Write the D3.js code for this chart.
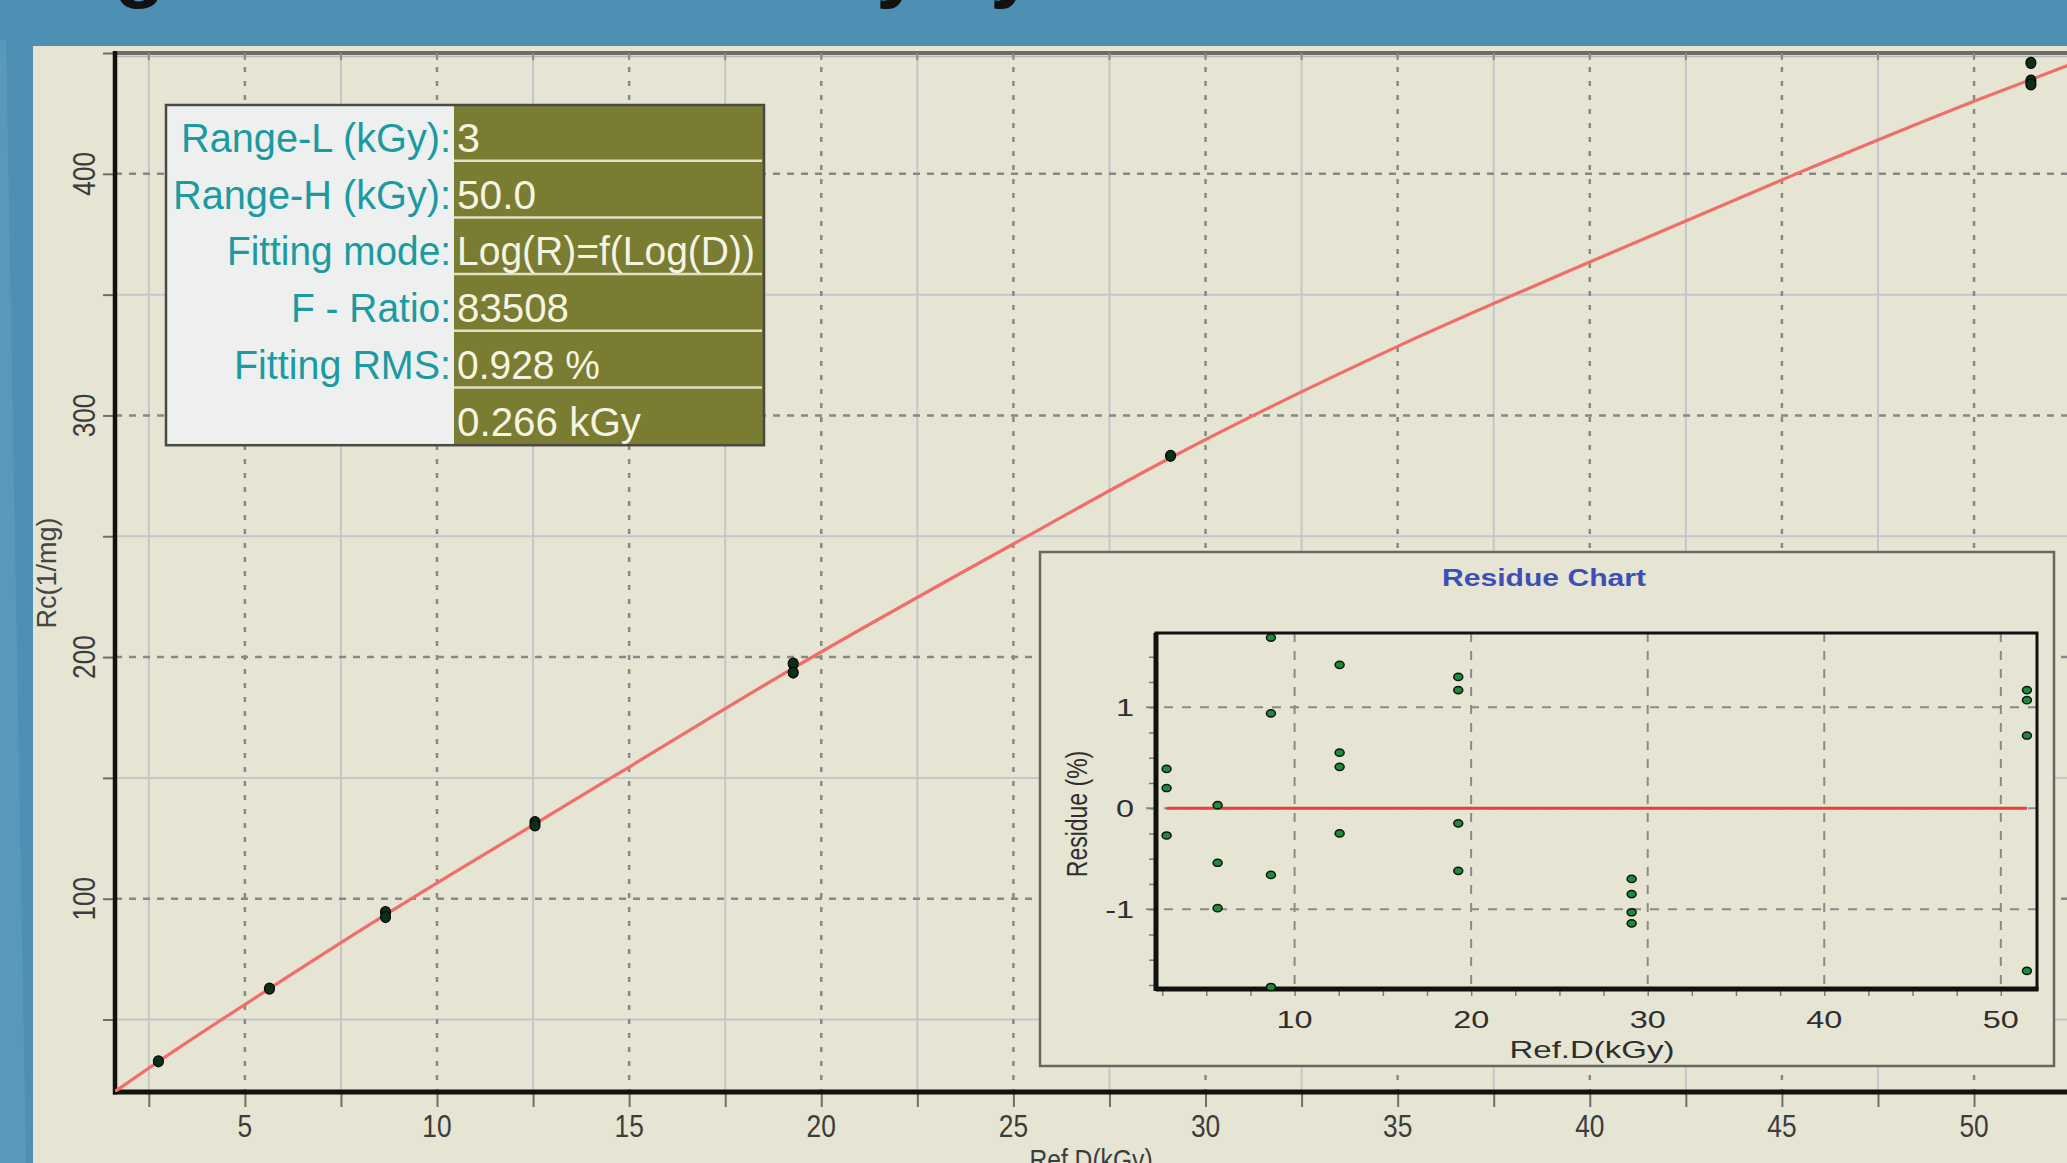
<!DOCTYPE html>
<html>
<head>
<meta charset="utf-8">
<script src="https://cdn.jsdelivr.net/npm/d3@7"></script>
<style>
  html, body { margin: 0; padding: 0; overflow: hidden; background: #4f90b5; }
  svg { display: block; }
</style>
</head>
<body>
<svg id="chart" width="2067" height="1163"></svg>
<script>
// values
const doseLevels = [2.75, 5.64, 8.66, 12.55, 19.27, 29.09, 51.48];

const rcDose = [2.75, 5.64, 8.66, 8.66, 12.55, 12.55, 19.27, 19.27, 29.09, 51.48, 51.48, 51.48];
const rcValue = [32.7, 62.8, 94.5, 92.4, 131.7, 130.3, 197.3, 193.6, 283.3, 445.9, 438.6, 437.0];

const fitDose = [1.62, 2.75, 5.64, 8.66, 12.55, 15, 19.27, 25, 29.09, 35, 40, 45, 50, 53.2];
const fitRc = [20.2, 32.6, 62.8, 93.4, 131.0, 154.5, 195.4, 246.8, 282.5, 328.6, 363.5, 397.5, 430.0, 449.5];

const resDose = [2.75, 2.75, 2.75, 5.64, 5.64, 5.64, 8.66, 8.66, 8.66, 8.66,
  12.55, 12.55, 12.55, 12.55, 19.27, 19.27, 19.27, 19.27,
  29.09, 29.09, 29.09, 29.09, 51.48, 51.48, 51.48, 51.48];
const resValue = [0.39, 0.2, -0.27, 0.03, -0.54, -0.99, 1.69, 0.94, -0.66, -1.77,
  1.42, 0.55, 0.41, -0.25, 1.30, 1.17, -0.15, -0.62,
  -0.70, -0.85, -1.03, -1.14, 1.17, 1.07, 0.72, -1.61];

const xTicksMain = [5, 10, 15, 20, 25, 30, 35, 40, 45, 50];
const yTicksMain = [100, 200, 300, 400];
const xTicksRes = [10, 20, 30, 40, 50];
const yTicksRes = [-1, 0, 1];

const infoLabels = ['Range-L (kGy):', 'Range-H (kGy):', 'Fitting mode:', 'F - Ratio:', 'Fitting RMS:', ''];
const infoValues = ['3', '50.0', 'Log(R)=f(Log(D))', '83508', '0.928 %', '0.266 kGy'];

const svg = d3.select('#chart');
const sans = "'Liberation Sans', Arial, sans-serif";
const panelFill = '#e6e4d3';

// slide background
svg.append('rect').attr('width', 2067).attr('height', 1163).attr('fill', '#4e8fb4');
svg.append('polygon')
  .attr('points', '0,40 6,40 26,1163 0,1163')
  .attr('fill', '#6ba3c4').attr('opacity', 0.45);
const title = svg.append('g')
  .attr('font-family', sans).attr('font-weight', 'bold').attr('font-size', 84).attr('fill', '#111');
title.append('text').attr('x', 114).attr('y', -8).text('g');
title.append('text').attr('x', 876).attr('y', -8).text('y');
title.append('text').attr('x', 990).attr('y', -8).text('y');

// chart panel
svg.append('rect').attr('x', 33).attr('y', 46).attr('width', 2067 - 33).attr('height', 1163 - 46).attr('fill', panelFill);

// ---------- main chart ----------
const plot = { left: 115, right: 2097, top: 53, bottom: 1092 };
const x = d3.scaleLinear().domain([1.62, 53.2]).range([plot.left, plot.right]);
const y = d3.scaleLinear().domain([20, 450]).range([plot.bottom, plot.top]);

const grid = svg.append('g');
// minor grid
grid.selectAll('.vminor').data(d3.range(2.5, 53, 5)).enter().append('line')
  .attr('x1', d => x(d)).attr('x2', d => x(d)).attr('y1', plot.top).attr('y2', plot.bottom)
  .attr('stroke', '#c4c6cc').attr('stroke-width', 2);
grid.selectAll('.hminor').data([50, 150, 250, 350]).enter().append('line')
  .attr('x1', plot.left).attr('x2', plot.right).attr('y1', d => y(d)).attr('y2', d => y(d))
  .attr('stroke', '#c4c6cc').attr('stroke-width', 2);
// major grid
grid.selectAll('.vmajor').data(xTicksMain).enter().append('line')
  .attr('x1', d => x(d)).attr('x2', d => x(d)).attr('y1', plot.top).attr('y2', plot.bottom)
  .attr('stroke', '#888888').attr('stroke-width', 2.5).attr('stroke-dasharray', '5,9');
grid.selectAll('.hmajor').data(yTicksMain).enter().append('line')
  .attr('x1', plot.left).attr('x2', plot.right).attr('y1', d => y(d)).attr('y2', d => y(d))
  .attr('stroke', '#888888').attr('stroke-width', 2.5).attr('stroke-dasharray', '7,7');

// axes
const xAxis = d3.axisBottom(x).tickValues(d3.range(2.5, 53, 2.5)).tickSize(15).tickFormat('');
svg.append('g').attr('transform', `translate(0,${plot.bottom})`).call(xAxis)
  .call(g => g.select('.domain').remove())
  .call(g => g.selectAll('.tick line').attr('stroke', '#6e6e6e').attr('stroke-width', 2));
const yAxis = d3.axisLeft(y).tickValues(d3.range(50, 451, 50)).tickSize(12).tickFormat('');
svg.append('g').attr('transform', `translate(${plot.left},0)`).call(yAxis)
  .call(g => g.select('.domain').remove())
  .call(g => g.selectAll('.tick line').attr('stroke', '#6e6e6e').attr('stroke-width', 2));
// top frame with little ticks
svg.append('line').attr('x1', plot.left).attr('x2', 2067).attr('y1', plot.top).attr('y2', plot.top)
  .attr('stroke', '#6c6c6a').attr('stroke-width', 4);
svg.append('line').attr('x1', plot.left).attr('x2', 2067).attr('y1', plot.top + 3.5).attr('y2', plot.top + 3.5)
  .attr('stroke', '#b9b8ac').attr('stroke-width', 1.5);
svg.append('g').selectAll('line').data(d3.range(2.5, 53, 2.5)).enter().append('line')
  .attr('x1', d => x(d)).attr('x2', d => x(d)).attr('y1', plot.top).attr('y2', plot.top + 7)
  .attr('stroke', '#8a8a8a').attr('stroke-width', 2);
svg.append('line').attr('x1', plot.left).attr('x2', plot.left).attr('y1', plot.top - 2).attr('y2', plot.bottom + 2.5)
  .attr('stroke', '#111').attr('stroke-width', 4.5);
svg.append('line').attr('x1', plot.left - 2).attr('x2', 2067).attr('y1', plot.bottom).attr('y2', plot.bottom)
  .attr('stroke', '#111').attr('stroke-width', 5);

// tick labels (condensed look, as in the reference)
svg.append('g').selectAll('text').data(xTicksMain).enter().append('text')
  .attr('transform', d => `translate(${x(d)},1137) scale(0.85,1)`)
  .attr('text-anchor', 'middle').attr('font-family', sans).attr('font-size', 31).attr('fill', '#3c3c3c')
  .text(d => d);
svg.append('g').selectAll('text').data(yTicksMain).enter().append('text')
  .attr('transform', d => `translate(95,${y(d)}) rotate(-90) scale(0.82,1)`)
  .attr('text-anchor', 'middle').attr('font-family', sans).attr('font-size', 32).attr('fill', '#3c3c3c')
  .text(d => d);
svg.append('text').attr('transform', 'translate(56,573) rotate(-90)')
  .attr('text-anchor', 'middle').attr('font-family', sans).attr('font-size', 27).attr('fill', '#454545')
  .text('Rc(1/mg)');
svg.append('text').attr('transform', 'translate(1091,1170) scale(0.85,1)')
  .attr('text-anchor', 'middle').attr('font-family', sans).attr('font-size', 29).attr('fill', '#3c3c3c')
  .text('Ref.D(kGy)');

// fit curve
svg.append('clipPath').attr('id', 'plotClip').append('rect')
  .attr('x', plot.left).attr('y', plot.top).attr('width', plot.right - plot.left).attr('height', plot.bottom - plot.top);
const fitLine = d3.line().x(d => x(d[0])).y(d => y(d[1])).curve(d3.curveMonotoneX);
svg.append('path').datum(d3.zip(fitDose, fitRc))
  .attr('clip-path', 'url(#plotClip)')
  .attr('d', fitLine).attr('fill', 'none').attr('stroke', '#ef6e6a').attr('stroke-width', 3.2);

// measured points
svg.append('g').selectAll('ellipse').data(d3.zip(rcDose, rcValue)).enter().append('ellipse')
  .attr('cx', d => x(d[0])).attr('cy', d => y(d[1])).attr('rx', 5).attr('ry', 5.5)
  .attr('fill', '#0d2e18').attr('stroke', '#030503').attr('stroke-width', 1.2);

// ---------- info box ----------
const box = { left: 166, top: 105, split: 454, right: 764, rowH: 56.7 };
const labelWidths = [270, 278, 224, 160, 217, 0];
const valueWidths = [23, 79, 298, 112, 143, 184];
const info = svg.append('g');
info.append('rect').attr('x', box.left).attr('y', box.top)
  .attr('width', box.split - box.left).attr('height', box.rowH * 6).attr('fill', '#eef0ef');
info.append('rect').attr('x', box.split).attr('y', box.top)
  .attr('width', box.right - box.split).attr('height', box.rowH * 6).attr('fill', '#7a7c31');
info.selectAll('.sep').data(d3.range(1, 6)).enter().append('line')
  .attr('x1', box.split).attr('x2', box.right - 2)
  .attr('y1', d => box.top + d * box.rowH - 1).attr('y2', d => box.top + d * box.rowH - 1)
  .attr('stroke', '#dfe2c4').attr('stroke-width', 2.5);
info.append('rect').attr('x', box.left).attr('y', box.top)
  .attr('width', box.right - box.left).attr('height', box.rowH * 6)
  .attr('fill', 'none').attr('stroke', '#4a4a44').attr('stroke-width', 2.5);
info.selectAll('.lab').data(infoLabels).enter().append('text')
  .attr('x', (d, i) => 451 - labelWidths[i]).attr('y', (d, i) => box.top + i * box.rowH + 47)
  .attr('font-family', sans).attr('font-size', 41).attr('fill', '#1c9aa2')
  .attr('textLength', (d, i) => labelWidths[i] || null).attr('lengthAdjust', 'spacingAndGlyphs')
  .text(d => d);
info.selectAll('.val').data(infoValues).enter().append('text')
  .attr('x', 457).attr('y', (d, i) => box.top + i * box.rowH + 47)
  .attr('font-family', sans).attr('font-size', 41).attr('fill', '#f4f4e2')
  .attr('textLength', (d, i) => valueWidths[i]).attr('lengthAdjust', 'spacingAndGlyphs')
  .text(d => d);

// ---------- residue chart inset ----------
const inset = svg.append('g');
inset.append('rect').attr('x', 1040).attr('y', 552).attr('width', 1014).attr('height', 514)
  .attr('fill', panelFill).attr('stroke', '#676762').attr('stroke-width', 2.5);

const rp = { left: 1156, right: 2037, top: 633, bottom: 989 };
const xr = d3.scaleLinear().domain([2.15, 52.05]).range([rp.left, rp.right]);
const yr = d3.scaleLinear().domain([-1.79, 1.735]).range([rp.bottom, rp.top]);

inset.selectAll('.rv').data(xTicksRes).enter().append('line')
  .attr('x1', d => xr(d)).attr('x2', d => xr(d)).attr('y1', rp.top).attr('y2', rp.bottom)
  .attr('stroke', '#8a8a8a').attr('stroke-width', 2).attr('stroke-dasharray', '9,9');
inset.selectAll('.rh').data(yTicksRes).enter().append('line')
  .attr('x1', rp.left - 10).attr('x2', rp.right).attr('y1', d => yr(d)).attr('y2', d => yr(d))
  .attr('stroke', '#8a8a8a').attr('stroke-width', 2).attr('stroke-dasharray', '9,9');

inset.append('g').attr('transform', `translate(0,${rp.bottom})`)
  .call(d3.axisBottom(xr).tickValues(d3.range(2.5, 51, 2.5)).tickSize(7).tickFormat(''))
  .call(g => g.select('.domain').remove())
  .call(g => g.selectAll('.tick line').attr('stroke', '#7a7a7a').attr('stroke-width', 1.5));
inset.append('g').attr('transform', `translate(${rp.left},0)`)
  .call(d3.axisLeft(yr).tickValues(d3.range(-1.75, 1.6, 0.25)).tickSize(7).tickFormat(''))
  .call(g => g.select('.domain').remove())
  .call(g => g.selectAll('.tick line').attr('stroke', '#7a7a7a').attr('stroke-width', 1.5));

inset.append('rect').attr('x', rp.left).attr('y', rp.top)
  .attr('width', rp.right - rp.left).attr('height', rp.bottom - rp.top)
  .attr('fill', 'none').attr('stroke', '#111').attr('stroke-width', 3);
inset.append('line').attr('x1', rp.left).attr('x2', rp.left).attr('y1', rp.top).attr('y2', rp.bottom + 2)
  .attr('stroke', '#111').attr('stroke-width', 5);
inset.append('line').attr('x1', rp.left).attr('x2', rp.right + 1.5).attr('y1', rp.bottom).attr('y2', rp.bottom)
  .attr('stroke', '#111').attr('stroke-width', 5);

const doseExtent = d3.extent(doseLevels);
inset.append('line').attr('x1', xr(doseExtent[0])).attr('x2', xr(doseExtent[1]))
  .attr('y1', yr(0)).attr('y2', yr(0)).attr('stroke', '#e8403e').attr('stroke-width', 3);

inset.append('g').selectAll('ellipse').data(d3.zip(resDose, resValue)).enter().append('ellipse')
  .attr('cx', d => xr(d[0])).attr('cy', d => yr(d[1])).attr('rx', 4.5).attr('ry', 3.6)
  .attr('fill', '#1d8a3c').attr('stroke', '#0b160b').attr('stroke-width', 1.5);

// inset texts are a little wider than plain Arial in the reference
inset.append('g').selectAll('text').data(xTicksRes).enter().append('text')
  .attr('transform', d => `translate(${xr(d)},1028) scale(1.35,1)`).attr('text-anchor', 'middle')
  .attr('font-family', sans).attr('font-size', 24).attr('fill', '#2e2e2e').text(d => d);
inset.append('g').selectAll('text').data(yTicksRes).enter().append('text')
  .attr('transform', d => `translate(1134,${yr(d) + 8.5}) scale(1.35,1)`).attr('text-anchor', 'end')
  .attr('font-family', sans).attr('font-size', 24).attr('fill', '#2e2e2e').text(d => d);

inset.append('text').attr('x', 1544).attr('y', 586).attr('text-anchor', 'middle')
  .attr('font-family', sans).attr('font-weight', 'bold').attr('font-size', 23).attr('fill', '#3b4fb6')
  .attr('textLength', 204).attr('lengthAdjust', 'spacingAndGlyphs')
  .text('Residue Chart');
inset.append('text').attr('x', 1592).attr('y', 1058).attr('text-anchor', 'middle')
  .attr('font-family', sans).attr('font-size', 24).attr('fill', '#2e2e2e')
  .attr('textLength', 165).attr('lengthAdjust', 'spacingAndGlyphs')
  .text('Ref.D(kGy)');
inset.append('text').attr('transform', 'translate(1087,814) rotate(-90) scale(1,1.25)')
  .attr('text-anchor', 'middle').attr('font-family', sans).attr('font-size', 23).attr('fill', '#2e2e2e')
  .text('Residue (%)');
</script>
</body>
</html>
